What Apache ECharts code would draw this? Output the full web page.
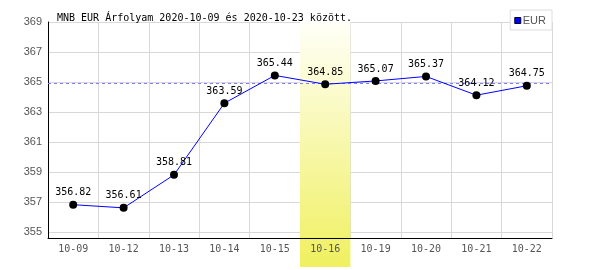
<!DOCTYPE html>
<html><head><meta charset="utf-8">
<script src="https://cdn.jsdelivr.net/npm/echarts@6/dist/echarts.min.js"></script>
<style>html,body{margin:0;padding:0;background:#fff}#c{width:600px;height:270px}</style>
</head><body><div id="c"></div>
<script>
const categories = ['10-09','10-12','10-13','10-14','10-15','10-16','10-19','10-20','10-21','10-22'];
const eurValues = [356.82, 356.61, 358.81, 363.59, 365.44, 364.85, 365.07, 365.37, 364.12, 364.75];
const yTicks = [355, 357, 359, 361, 363, 365, 367, 369];
const highlightCategory = '10-16';
const referenceLevel = 364.9;
const titleText = 'MNB EUR Árfolyam 2020-10-09 és 2020-10-23 között.';

const G = {left: 48, right: 48, top: 22, bottom: 32};
const yMin = 354.6, yMax = 369;
const highlightData = categories.map(c => c === highlightCategory ? 1 : null);

const chart = echarts.init(document.getElementById('c'), null, {renderer: 'canvas'});
chart.setOption({
  animation: false,
  title: {text: titleText, left: 52, top: 8, textStyle: {fontFamily: 'DejaVu Sans Mono', fontSize: 10, fontWeight: 'normal', color: '#000'}},
  legend: {
    data: [{name: 'EUR', itemStyle: {color: '#0000ff', borderColor: '#000033', borderWidth: 1}}],
    right: 48, top: 10, orient: 'vertical', z: 10,
    borderColor: '#dddddd', borderWidth: 1, backgroundColor: '#fff',
    padding: [5, 6, 4, 4], itemWidth: 6, itemHeight: 6, itemGap: 2,
    icon: 'rect',
    textStyle: {fontFamily: 'Liberation Sans', fontSize: 11, color: '#555', padding: [0,0,0,-3]}
  },
  grid: [
    {left: G.left, right: G.right, top: G.top, bottom: G.bottom},
    {left: G.left, right: G.right, top: G.top, bottom: 3},
    {left: G.left, right: G.right, top: G.top, bottom: G.bottom}
  ],
  xAxis: [
    {gridIndex: 0, type: 'category', data: categories, boundaryGap: true, z: 0,
      axisLine: {show: false}, axisTick: {show: false}, axisLabel: {show: false},
      splitLine: {show: true, lineStyle: {color: '#d8d8d8', width: 1}}},
    {gridIndex: 1, type: 'category', data: categories, show: false},
    {gridIndex: 2, type: 'category', data: categories, boundaryGap: true, z: 4,
      axisLine: {show: true, lineStyle: {color: '#000', width: 1}}, axisTick: {show: false},
      axisLabel: {color: '#555', fontFamily: 'DejaVu Sans Mono', fontSize: 10, margin: 6},
      splitLine: {show: false}}
  ],
  yAxis: [
    {gridIndex: 0, type: 'value', min: yMin, max: yMax, z: 0,
      axisLine: {show: false}, axisLabel: {show: false},
      axisTick: {show: false, customValues: yTicks},
      splitLine: {show: true, lineStyle: {color: '#d8d8d8', width: 1}}},
    {gridIndex: 1, type: 'value', min: 0, max: 1, show: false},
    {gridIndex: 2, type: 'value', min: yMin, max: yMax, z: 4,
      axisLine: {show: true, lineStyle: {color: '#000', width: 1}},
      axisTick: {show: false, customValues: yTicks},
      axisLabel: {customValues: yTicks, color: '#555', fontFamily: 'Liberation Sans', fontSize: 11, margin: 6},
      splitLine: {show: false}}
  ],
  series: [
    {name: 'ref', type: 'line', xAxisIndex: 2, yAxisIndex: 2, data: [], z: 1, color: '#8080ff',
      markLine: {silent: true, symbol: 'none', label: {show: false},
        lineStyle: {color: '#8080ff', type: [3, 3], width: 1, opacity: 1},
        data: [{yAxis: referenceLevel}]}},
    {type: 'bar', xAxisIndex: 1, yAxisIndex: 1, data: highlightData, barWidth: '100%', z: 2, silent: true,
      itemStyle: {color: new echarts.graphic.LinearGradient(0, 0, 0, 1, [
        {offset: 0, color: '#fffff8'}, {offset: 1, color: '#f0f060'}])}},
    {name: 'EUR', type: 'line', xAxisIndex: 2, yAxisIndex: 2, data: eurValues, z: 5,
      color: '#0000ff',
      symbol: 'circle', symbolSize: 8,
      lineStyle: {color: '#0000ff', width: 1},
      itemStyle: {color: '#000'},
      label: {show: true, position: 'top', distance: 3, color: '#000', fontFamily: 'DejaVu Sans Mono', fontSize: 10}
    }
  ]
});
</script></body></html>
